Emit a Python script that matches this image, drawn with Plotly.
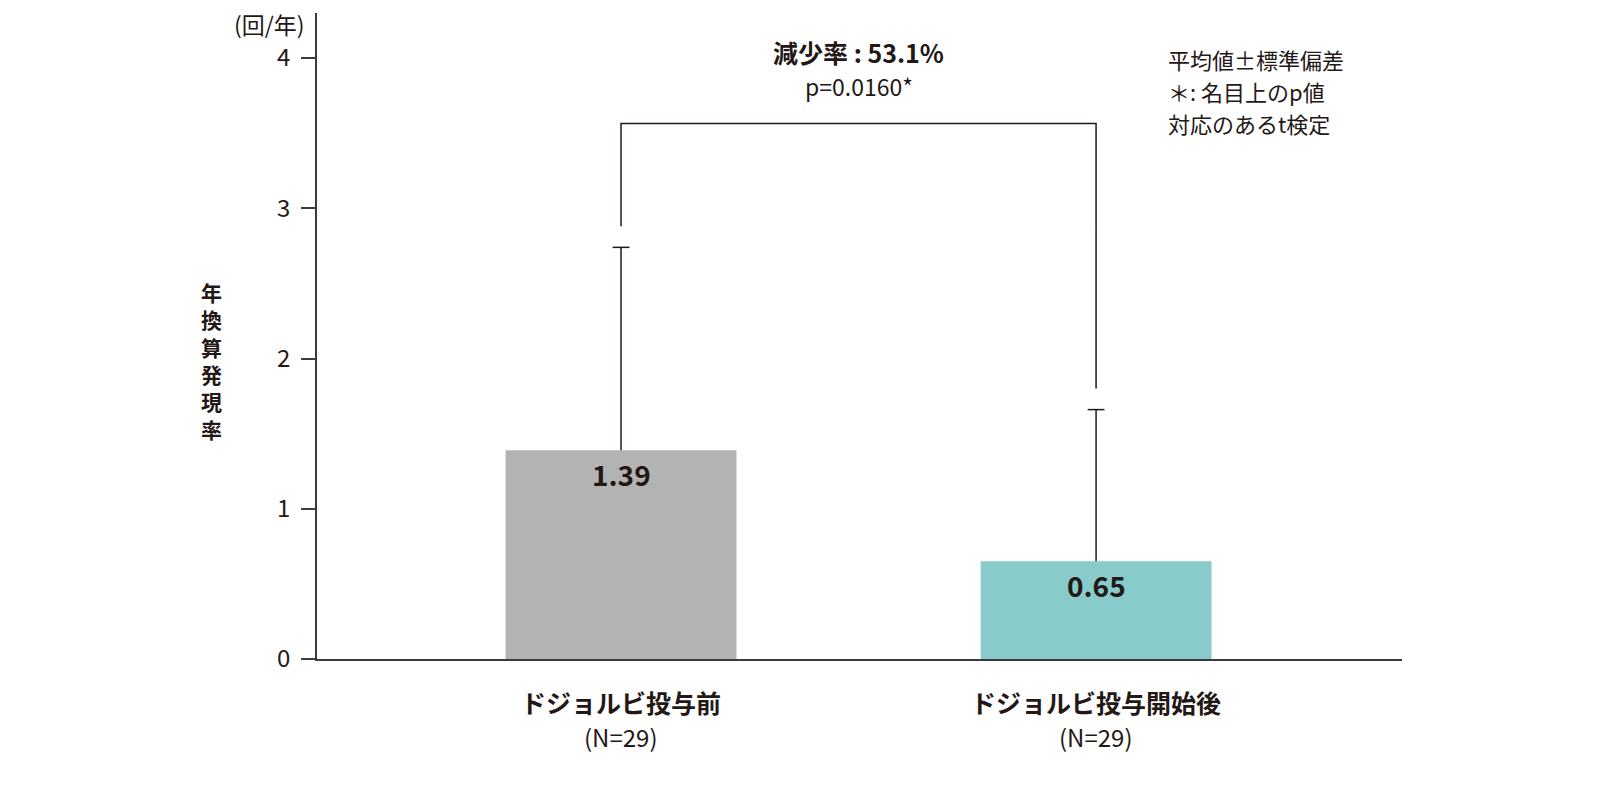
import plotly.graph_objects as go

# ---- data ----
categories = ["ドジョルビ投与前", "ドジョルビ投与開始後"]
n_labels = ["(N=29)", "(N=29)"]
means = [1.39, 0.65]
sds = [1.35, 1.01]
value_labels = ["1.39", "0.65"]
bar_colors = ["#b3b3b3", "#87cbca"]
bracket_x = [categories[0], categories[0], categories[1], categories[1]]
bracket_y = [2.88, 3.565, 3.565, 1.80]
y_ticks = [0, 1, 2, 3, 4]
y_title = "年換算発現率"
y_unit = "(回/年)"
stat_line1 = "減少率 : 53.1%"
stat_line2 = "p=0.0160*"
notes = ["平均値±標準偏差", "＊: 名目上のp値", "対応のあるt検定"]

FONT = "Noto Sans CJK JP"
INK = "#231815"
AXIS = "#3e3a39"

L, R, T, B = 309, 206, 5, 149
PH = 800 - T - B

upper = [m + s for m, s in zip(means, sds)]

fig = go.Figure()
fig.add_trace(go.Bar(
    x=categories, y=means, width=0.486,
    marker=dict(color=bar_colors, line=dict(width=0)),
    hoverinfo="skip", showlegend=False,
))
# upper-only error bars (stem + cap at the top)
err_x, err_y = [], []
for c, m, u in zip(categories, means, upper):
    err_x += [c, c, None]
    err_y += [m, u, None]
fig.add_trace(go.Scatter(
    x=err_x, y=err_y, mode="lines", line=dict(color=INK, width=1.5),
    hoverinfo="skip", showlegend=False,
))
fig.add_trace(go.Scatter(
    x=categories, y=upper, mode="markers",
    marker=dict(symbol="line-ew", size=12, line=dict(color=INK, width=1.5)),
    hoverinfo="skip", showlegend=False,
))
fig.add_trace(go.Scatter(
    x=bracket_x, y=bracket_y, mode="lines",
    line=dict(color=INK, width=1.5), hoverinfo="skip", showlegend=False,
))

annotations = []
for c, v, t in zip(categories, means, value_labels):
    annotations.append(dict(x=c, y=v, xref="x", yref="y", text=f"<b>{t}</b>",
                            showarrow=False, yanchor="middle", yshift=-24,
                            font=dict(size=28, color=INK, family=FONT)))
for c, n in zip(categories, n_labels):
    annotations.append(dict(x=c, y=0, xref="x", yref="paper", text=f"<b>{c}</b>",
                            showarrow=False, yanchor="middle", yshift=-43,
                            font=dict(size=25, color=INK, family=FONT)))
    annotations.append(dict(x=c, y=0, xref="x", yref="paper", text=n,
                            showarrow=False, yanchor="middle", yshift=-77,
                            font=dict(size=24, color=INK, family=FONT)))
# vertical axis title, one character per line
annotations.append(dict(x=0, y=(800 - B - 352) / PH, xref="paper", yref="paper",
                        text="<br>".join(f"<b>{ch}</b>" for ch in y_title),
                        showarrow=False, xanchor="center", yanchor="middle",
                        xshift=-106, font=dict(size=21, color=INK, family=FONT)))
annotations.append(dict(x=0, y=(800 - B - 16) / PH, xref="paper", yref="paper",
                        text=y_unit, showarrow=False, xanchor="right",
                        yanchor="middle", xshift=-10,
                        font=dict(size=23, color=INK, family=FONT)))
annotations.append(dict(x=0.5, y=(800 - B - 44) / PH, xref="x", yref="paper",
                        text=f"<b>{stat_line1}</b>", showarrow=False,
                        xanchor="center", yanchor="middle",
                        font=dict(size=25, color=INK, family=FONT)))
annotations.append(dict(x=0.5, y=(800 - B - 78) / PH, xref="x", yref="paper",
                        text=stat_line2, showarrow=False,
                        xanchor="center", yanchor="middle",
                        font=dict(size=23, color=INK, family=FONT)))
# explanatory notes (top right)
for i, n in enumerate(notes):
    annotations.append(dict(x=(1158 - L) / (1600 - L - R),
                            y=(800 - B - (51 + i * 32.2)) / PH,
                            xref="paper", yref="paper", text=n, showarrow=False,
                            xanchor="left", yanchor="middle",
                            font=dict(size=22, color=INK, family=FONT)))

shapes = [
    dict(type="line", xref="paper", yref="y", x0=0, x1=0, ysizemode="pixel",
         yanchor=0, y0=0, y1=-12, line=dict(color=AXIS, width=1.5)),
    dict(type="line", xref="paper", yref="y", x0=1, x1=1, ysizemode="pixel",
         yanchor=0, y0=0, y1=-6, line=dict(color=AXIS, width=1.5)),
]

fig.update_layout(
    width=1600, height=800,
    margin=dict(l=L, r=R, t=T, b=B),
    paper_bgcolor="white", plot_bgcolor="white",
    font=dict(family=FONT, color=INK),
    annotations=annotations, shapes=shapes,
    xaxis=dict(range=[-0.640, 1.644], showline=True, linecolor=AXIS, linewidth=1.5,
               ticks="", showgrid=False, zeroline=False, showticklabels=False),
    yaxis=dict(range=[0, 4.3], tickvals=y_ticks, showline=True, linecolor=AXIS,
               linewidth=1.5, ticks="outside", ticklen=14, tickwidth=1.5,
               tickcolor=AXIS, showgrid=False, zeroline=False,
               tickfont=dict(size=24, color=INK, family=FONT),
               ticklabelstandoff=6),
)

fig.write_html("out.html")
